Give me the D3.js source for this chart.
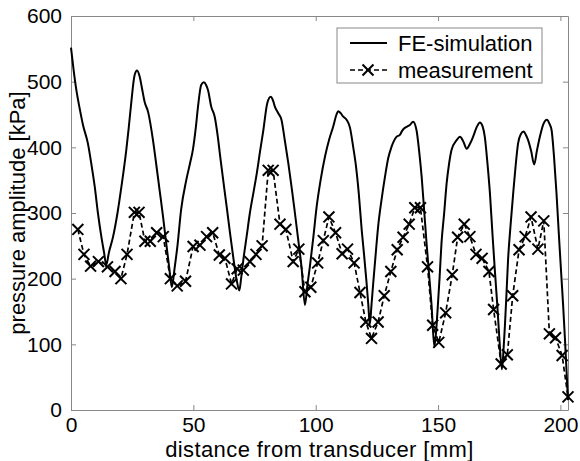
<!DOCTYPE html>
<html>
<head>
<meta charset="utf-8">
<script src="https://cdn.jsdelivr.net/npm/d3@7"></script>
<style>
  body { margin: 0; background: #fff; }
  svg { font-family: Arial, "Liberation Sans", Helvetica, sans-serif; }
</style>
</head>
<body>
<svg width="580" height="461"></svg>
<script>
// FE simulation, distance in mm / amplitude in kPa
const simX = [0, 1, 2.2, 3.5, 4.9, 6.9, 8.3, 9.7, 11, 12.4, 13.5, 14.4, 15.5, 17.2, 19, 20.6, 22.6, 23.6, 24.6, 26, 27, 28.1, 29, 30.1, 31.5, 33.5, 34.8, 36.2, 37.6, 38.9, 40.2, 41.2, 42.3, 43.5, 45, 47.1, 48.6, 49.8, 51, 51.9, 53.2, 54.3, 55.2, 56, 57.3, 58.7, 60, 61, 62.2, 63.6, 65, 66.4, 67.7, 68.8, 69.5, 70.4, 71.8, 73.1, 74.5, 75.9, 77.3, 78.6, 80.2, 81.6, 82.5, 83.3, 84.7, 86, 87.4, 88.8, 90.2, 91.5, 92.9, 94.2, 95.6, 96.6, 97.6, 99, 100.4, 102, 103.8, 105.5, 107.1, 108.5, 109.2, 110.2, 111.2, 112.6, 114, 115.3, 116.5, 117.6, 118.8, 119.8, 120.8, 121.5, 122.1, 122.8, 123.5, 124.5, 125.5, 126.9, 128.3, 129.6, 131, 133, 134.4, 135.3, 136.2, 137.5, 138.5, 139.8, 141.2, 142.3, 143.3, 144.3, 145.3, 146.3, 147.3, 148.5, 149.8, 150.6, 151.4, 152.5, 153.5, 154.5, 155.5, 157.6, 159, 160.3, 161.7, 163, 164.3, 165.7, 167.1, 168.2, 169.1, 170.2, 171.2, 172.2, 173.2, 174.2, 175, 176.1, 176.8, 177.3, 178, 178.6, 179.6, 180.7, 181.7, 182.7, 183.8, 185, 186, 186.8, 188, 189.3, 190.4, 191.6, 193, 194.5, 195.5, 196.4, 197.4, 198.4, 199.4, 200.4, 201.1, 201.8, 202.5, 203.1];
const simY = [552, 520, 487, 460, 434, 406, 375, 340, 300, 264, 240, 221, 240, 264, 300, 340, 396, 430, 467, 510, 517, 507, 490, 469, 454, 411, 375, 335, 295, 254, 215, 187, 215, 250, 305, 350, 375, 396, 430, 462, 495, 499, 495, 487, 462, 447, 416, 385, 350, 310, 269, 230, 198, 182, 200, 228, 265, 300, 330, 360, 395, 426, 467, 477, 472, 462, 452, 442, 410, 376, 338, 300, 258, 218, 160, 190, 218, 262, 310, 350, 386, 412, 431, 450, 455, 452, 447, 442, 430, 401, 370, 330, 274, 235, 193, 160, 130, 160, 193, 237, 279, 320, 355, 383, 401, 416, 419, 425, 429, 432, 434, 439, 426, 393, 355, 305, 254, 208, 162, 96, 152, 200, 254, 300, 345, 375, 396, 411, 416, 409, 398, 405, 416, 430, 438, 432, 416, 375, 330, 270, 213, 160, 112, 62, 95, 127, 180, 228, 280, 330, 372, 406, 420, 424, 418, 411, 395, 374, 395, 416, 435, 442, 436, 426, 385, 330, 265, 203, 160, 112, 60, 15];

// measurement points
const measX = [2.8, 5.3, 8.0, 11.2, 14.9, 18.0, 20.4, 22.9, 25.9, 27.8, 30.2, 32.4, 35.0, 37.7, 40.6, 43.4, 46.8, 49.9, 52.7, 55.4, 57.9, 60.6, 62.9, 65.6, 67.9, 70.4, 73.1, 75.6, 78.1, 80.6, 82.6, 85.4, 87.8, 90.8, 93.1, 95.6, 98.0, 100.8, 103.1, 105.4, 108.1, 110.8, 113.0, 115.7, 118.1, 120.5, 122.8, 125.5, 128.0, 130.7, 133.3, 135.7, 138.2, 140.5, 142.8, 145.7, 147.8, 150.3, 153.1, 155.8, 158.0, 160.7, 163.0, 165.5, 168.0, 170.8, 172.7, 175.8, 178.3, 180.5, 183.1, 185.6, 188.0, 190.8, 193.2, 195.5, 198.0, 200.7, 203.1];
const measY = [275, 237, 219, 226, 218, 211, 200, 237, 301, 301, 257, 257, 270, 264, 200, 189, 196, 249, 251, 264, 270, 236, 231, 192, 215, 213, 226, 237, 250, 365, 365, 283, 275, 226, 245, 180, 187, 224, 258, 294, 270, 238, 245, 224, 179, 134, 109, 134, 174, 211, 244, 263, 283, 308, 308, 218, 129, 103, 148, 206, 263, 283, 264, 237, 231, 211, 153, 70, 84, 174, 244, 264, 294, 245, 288, 116, 110, 83, 20];

const xTicks = [0, 50, 100, 150, 200];
const yTicks = [0, 100, 200, 300, 400, 500, 600];
const seriesNames = ["FE-simulation", "measurement"];

const simData = simX.map((x, i) => ({ x: x, y: simY[i] }));
const measData = measX.map((x, i) => ({ x: x, y: measY[i] }));

// plot box in pixels
const plotLeft = 71, plotRight = 568, plotTop = 16, plotBottom = 410;
const axisColor = "#888";

const xScale = d3.scaleLinear().domain([0, 203.1]).range([plotLeft, plotRight]);
const yScale = d3.scaleLinear().domain([0, 600]).range([plotBottom, plotTop]);

const svg = d3.select("svg");

// ticks pointing inward on all four sides, labels only bottom/left
const bottomAxis = d3.axisBottom(xScale).tickValues(xTicks).tickSizeInner(-5).tickSizeOuter(0).tickPadding(7);
const topAxis = d3.axisTop(xScale).tickValues(xTicks).tickSizeInner(-5).tickSizeOuter(0).tickFormat("");
const leftAxis = d3.axisLeft(yScale).tickValues(yTicks).tickSizeInner(-5).tickSizeOuter(0).tickPadding(9);
const rightAxis = d3.axisRight(yScale).tickValues(yTicks).tickSizeInner(-5).tickSizeOuter(0).tickFormat("");

function styleAxis(g) {
  g.select(".domain").attr("stroke", axisColor);
  g.selectAll(".tick line").attr("stroke", axisColor);
  g.selectAll(".tick text").attr("fill", "#000").style("font-size", "21px");
}

svg.append("g").attr("transform", `translate(0,${plotBottom})`).call(bottomAxis).call(styleAxis);
svg.append("g").attr("transform", `translate(0,${plotTop})`).call(topAxis).call(styleAxis);
svg.append("g").attr("transform", `translate(${plotLeft},0)`).call(leftAxis).call(styleAxis);
svg.append("g").attr("transform", `translate(${plotRight},0)`).call(rightAxis).call(styleAxis);

// simulation is a smooth curve, measurement straight segments
const simLine = d3.line().curve(d3.curveMonotoneX).x(d => xScale(d.x)).y(d => yScale(d.y));
const measLine = d3.line().x(d => xScale(d.x)).y(d => yScale(d.y));

svg.append("path")
  .datum(simData)
  .attr("fill", "none")
  .attr("stroke", "#000")
  .attr("stroke-width", 2)
  .attr("stroke-linejoin", "round")
  .attr("d", simLine);

svg.append("path")
  .datum(measData)
  .attr("fill", "none")
  .attr("stroke", "#000")
  .attr("stroke-width", 1.7)
  .attr("stroke-dasharray", "5,3")
  .attr("d", measLine);

// x markers
const cross = d3.symbol().type(d3.symbolX).size(80);
svg.append("g")
  .selectAll("path")
  .data(measData)
  .enter()
  .append("path")
  .attr("transform", d => `translate(${xScale(d.x)},${yScale(d.y)})`)
  .attr("d", cross)
  .attr("fill", "none")
  .attr("stroke", "#000")
  .attr("stroke-width", 2);

// axis titles
svg.append("text")
  .attr("x", (plotLeft + plotRight) / 2)
  .attr("y", 457)
  .attr("text-anchor", "middle")
  .style("font-size", "22px")
  .style("letter-spacing", "0.4px")
  .text("distance from transducer [mm]");

svg.append("text")
  .attr("transform", `translate(25,${(plotTop + plotBottom) / 2}) rotate(-90)`)
  .attr("text-anchor", "middle")
  .style("font-size", "22px")
  .text("pressure amplitude [kPa]");

// legend
const legend = svg.append("g").attr("transform", "translate(337,28)");
legend.append("rect")
  .attr("width", 205)
  .attr("height", 55)
  .attr("fill", "#fff")
  .attr("stroke", axisColor);

const rows = legend.selectAll("g.row")
  .data(seriesNames)
  .enter()
  .append("g")
  .attr("class", "row")
  .attr("transform", (d, i) => `translate(0,${15 + i * 27})`);

rows.append("line")
  .attr("x1", 13).attr("x2", 50)
  .attr("stroke", "#000")
  .attr("stroke-width", (d, i) => i === 0 ? 2 : 1.7)
  .attr("stroke-dasharray", (d, i) => i === 0 ? null : "5,3");

rows.filter((d, i) => i === 1)
  .append("path")
  .attr("transform", "translate(31,0)")
  .attr("d", cross)
  .attr("fill", "none")
  .attr("stroke", "#000")
  .attr("stroke-width", 2);

rows.append("text")
  .attr("x", 61)
  .attr("dy", "0.35em")
  .style("font-size", "22px")
  .text(d => d);
</script>
</body>
</html>
